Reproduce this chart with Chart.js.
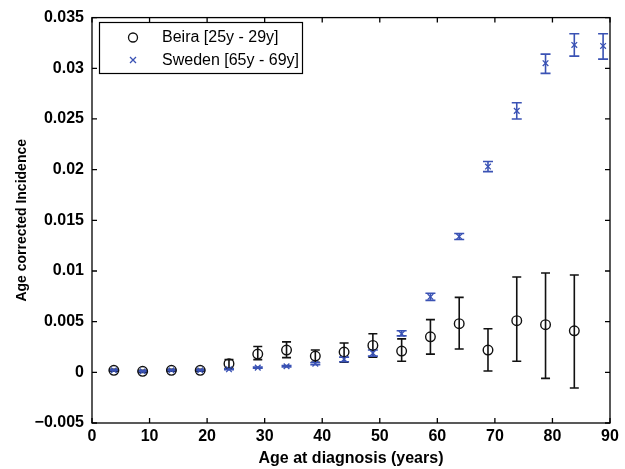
<!DOCTYPE html>
<html>
<head>
<meta charset="utf-8">
<script src="https://cdn.jsdelivr.net/npm/chart.js@4/dist/chart.umd.min.js"></script>
<style>
  html,body{margin:0;padding:0;background:#fff;}
  #wrap{width:625px;height:469px;}
</style>
</head>
<body>
<div id="wrap"><canvas id="c"></canvas></div>
<script>
// values
const beiraAges = [3.8, 8.8, 13.8, 18.8, 23.8, 28.8, 33.8, 38.8, 43.8, 48.8, 53.8, 58.8, 63.8, 68.8, 73.8, 78.8, 83.8];
const beira     = [0.0002, 0.0001, 0.0002, 0.0002, 0.00085, 0.0018, 0.0022, 0.0016, 0.0020, 0.00265, 0.0021, 0.0035, 0.0048, 0.0022, 0.0051, 0.0047, 0.0041];
const beiraLow  = [0.0001, 0.0000, 0.0001, 0.0001, 0.0004, 0.00125, 0.00145, 0.0010, 0.0010, 0.0015, 0.0011, 0.0018, 0.0023, 0.00013, 0.0011, -0.0006, -0.00155];
const beiraHigh = [0.0003, 0.0002, 0.0003, 0.0003, 0.00125, 0.00255, 0.0030, 0.0022, 0.0029, 0.0038, 0.0033, 0.0052, 0.0074, 0.0043, 0.0094, 0.0098, 0.0096];

const swedenAges = [3.8, 8.8, 13.8, 18.8, 23.8, 28.8, 33.8, 38.8, 43.8, 48.8, 53.8, 58.8, 63.8, 68.8, 73.8, 78.8, 83.8, 88.8];
const sweden     = [0.0002, 0.0001, 0.0002, 0.0002, 0.0003, 0.00046, 0.0006, 0.00085, 0.0013, 0.0019, 0.0038, 0.00745, 0.0134, 0.0203, 0.0258, 0.0305, 0.0323, 0.0322];
const swedenLow  = [0.00015, 0.00005, 0.00015, 0.00015, 0.00025, 0.0004, 0.00052, 0.00075, 0.00105, 0.0016, 0.0036, 0.0071, 0.0131, 0.0198, 0.0250, 0.0295, 0.0312, 0.0309];
const swedenHigh = [0.00025, 0.00015, 0.00025, 0.00025, 0.00035, 0.00052, 0.00068, 0.00095, 0.0015, 0.0022, 0.0041, 0.0078, 0.0137, 0.0208, 0.0266, 0.0314, 0.0334, 0.0334];

const seriesNames = ["Beira [25y - 29y]", "Sweden [65y - 69y]"];
const xTicks = [0, 10, 20, 30, 40, 50, 60, 70, 80, 90];
const yTicks = [-0.005, 0, 0.005, 0.01, 0.015, 0.02, 0.025, 0.03, 0.035];

const BLUE = "#3a52b4";
const FONT = "'Liberation Sans', Arial, sans-serif";

function pts(xs, ys){ return xs.map((x,i)=>({x, y: ys[i]})); }

// error bars, drawn through the scales
const errorBars = {
  id: "errorBars",
  beforeDatasetsDraw(chart){
    const {ctx, scales:{x, y}} = chart;
    const sets = [
      {xs: beiraAges, lo: beiraLow, hi: beiraHigh, color: "#111", cap: 4.5, lw: 1.6},
      {xs: swedenAges, lo: swedenLow, hi: swedenHigh, color: BLUE, cap: 5, lw: 1.6}
    ];
    ctx.save();
    sets.forEach(s=>{
      ctx.strokeStyle = s.color;
      ctx.lineWidth = s.lw;
      s.xs.forEach((xv,i)=>{
        const px = x.getPixelForValue(xv);
        const y1 = y.getPixelForValue(s.lo[i]);
        const y2 = y.getPixelForValue(s.hi[i]);
        ctx.beginPath();
        ctx.moveTo(px, y1); ctx.lineTo(px, y2);
        ctx.moveTo(px - s.cap, y1); ctx.lineTo(px + s.cap, y1);
        ctx.moveTo(px - s.cap, y2); ctx.lineTo(px + s.cap, y2);
        ctx.stroke();
      });
    });
    ctx.restore();
  }
};

// box with inward ticks, and the legend inside the plot
const frame = {
  id: "frame",
  afterDraw(chart){
    const {ctx, chartArea:a, scales:{x, y}} = chart;
    ctx.save();
    ctx.strokeStyle = "#000";
    ctx.lineWidth = 1.3;
    ctx.strokeRect(a.left, a.top, a.right - a.left, a.bottom - a.top);
    const t = 5;
    ctx.beginPath();
    xTicks.forEach(v=>{
      const px = x.getPixelForValue(v);
      ctx.moveTo(px, a.bottom); ctx.lineTo(px, a.bottom - t);
      ctx.moveTo(px, a.top); ctx.lineTo(px, a.top + t);
    });
    yTicks.forEach(v=>{
      const py = y.getPixelForValue(v);
      ctx.moveTo(a.left, py); ctx.lineTo(a.left + t, py);
      ctx.moveTo(a.right, py); ctx.lineTo(a.right - t, py);
    });
    ctx.stroke();

    // legend
    const lx = 99.5, ly = 22.5, lw = 203, lh = 51;
    ctx.fillStyle = "#fff";
    ctx.fillRect(lx, ly, lw, lh);
    ctx.lineWidth = 1.2;
    ctx.strokeRect(lx, ly, lw, lh);
    ctx.lineWidth = 1.3;
    ctx.strokeStyle = "#111";
    ctx.beginPath(); ctx.arc(133, 37.5, 4.5, 0, Math.PI*2); ctx.stroke();
    ctx.strokeStyle = BLUE;
    ctx.beginPath();
    ctx.moveTo(130, 57); ctx.lineTo(136, 63);
    ctx.moveTo(136, 57); ctx.lineTo(130, 63);
    ctx.stroke();
    ctx.fillStyle = "#000";
    ctx.font = "16px " + FONT;
    ctx.textBaseline = "middle";
    ctx.fillText(seriesNames[0], 162, 38);
    ctx.fillText(seriesNames[1], 162, 60.5);
    ctx.restore();
  }
};

new Chart(document.getElementById("c"), {
  type: "scatter",
  data: {
    datasets: [
      {
        label: seriesNames[0],
        data: pts(beiraAges, beira),
        pointStyle: "circle",
        pointRadius: 4.8,
        borderWidth: 1.4,
        borderColor: "#111",
        backgroundColor: "rgba(0,0,0,0)",
        order: 1
      },
      {
        label: seriesNames[1],
        data: pts(swedenAges, sweden),
        pointStyle: "crossRot",
        pointRadius: 4,
        borderWidth: 1.3,
        borderColor: BLUE,
        backgroundColor: BLUE,
        order: 0
      }
    ]
  },
  options: {
    responsive: true,
    maintainAspectRatio: false,
    animation: false,
    layout: { padding: { top: 15, right: 15, left: 0, bottom: 0 } },
    plugins: { legend: { display: false }, tooltip: { enabled: false } },
    scales: {
      x: {
        type: "linear",
        min: 0, max: 90,
        afterBuildTicks: s => { s.ticks = xTicks.map(v=>({value:v})); },
        afterFit: s => { s.height = 46; },
        grid: { display: false, drawTicks: false },
        border: { display: false },
        ticks: { color: "#000", padding: 4, font: { family: FONT, size: 16, weight: "bold" } },
        title: {
          display: true, text: "Age at diagnosis (years)", color: "#000",
          padding: { top: 0, bottom: 1 },
          font: { family: FONT, size: 16, weight: "bold" }
        }
      },
      y: {
        type: "linear",
        min: -0.005, max: 0.035,
        afterBuildTicks: s => { s.ticks = yTicks.map(v=>({value:v})); },
        afterFit: s => { s.width = 92; },
        grid: { display: false, drawTicks: false },
        border: { display: false },
        ticks: {
          color: "#000", padding: 8,
          font: { family: FONT, size: 16, weight: "bold" },
          callback: v => { const s = +v.toFixed(4); return s < 0 ? "\u2212" + (-s) : String(s); }
        },
        title: {
          display: true, text: "Age corrected Incidence", color: "#000",
          padding: { top: 14, bottom: 0 },
          font: { family: FONT, size: 14, weight: "bold" }
        }
      }
    }
  },
  plugins: [errorBars, frame]
});
</script>
</body>
</html>
